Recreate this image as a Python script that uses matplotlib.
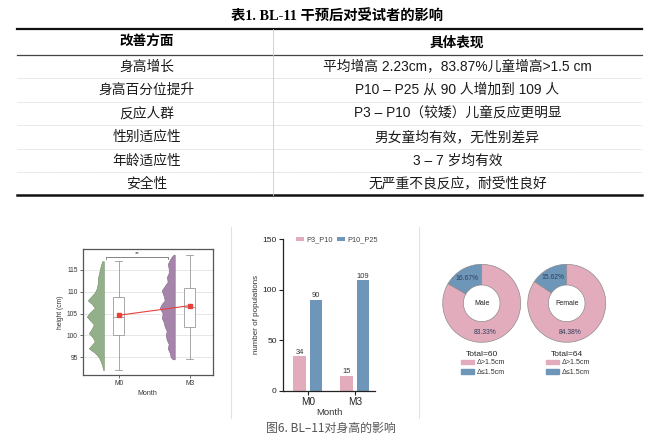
import matplotlib
matplotlib.use('Agg')
import matplotlib.pyplot as plt
from matplotlib.patches import Patch
import numpy as np

plt.rcParams['font.family'] = ['Liberation Sans', 'Noto Sans CJK SC', 'DejaVu Sans']

W, H = 650, 444

# ---- table data ----
table_title = '表1. BL-11 干预后对受试者的影响'
table_header = ['改善方面', '具体表现']
table_aspects = ['身高增长', '身高百分位提升', '反应人群', '性别适应性', '年龄适应性', '安全性']
table_details = ['平均增高 2.23cm，83.87%儿童增高>1.5 cm',
                 'P10 – P25 从 90 人增加到 109 人',
                 'P3 – P10（较矮）儿童反应更明显',
                 '男女童均有效，无性别差异',
                 '3 – 7 岁均有效',
                 '无严重不良反应，耐受性良好']
caption = '图6. BL–11对身高的影响'

# ---- height box plot data ----
months = ['M0', 'M3']
box_q1 = [100.0, 102.0]
box_med = [104.3, 106.5]
box_q3 = [108.8, 110.9]
box_low = [92.0, 94.5]
box_high = [117.0, 118.5]
height_mean = [104.6, 106.8]

violin_m0_height = [92.0, 93.0, 94.0, 95.0, 96.0, 97.0, 97.8, 98.6, 99.5, 100.5, 101.5,
                    102.5, 103.5, 104.3, 105.2, 106.3, 107.2, 108.0, 108.8, 109.8,
                    110.8, 112.0, 113.0, 114.0, 115.0, 116.0, 117.0]
violin_m0_density = [0.5, 1.5, 3, 5, 9, 15, 12, 9, 11, 15, 12, 10, 14, 17, 14, 9, 12,
                     16, 13, 9, 7, 6, 6, 5, 4, 3, 1.5]
violin_m3_height = [94.5, 95.0, 96.0, 97.0, 98.0, 99.0, 100.0, 101.0, 102.0, 103.0,
                    104.0, 105.0, 106.3, 107.2, 108.0, 109.0, 110.3, 111.3, 112.3,
                    113.3, 114.3, 115.3, 116.3, 117.3, 118.0, 118.5]
violin_m3_density = [2, 4, 5, 7, 6, 8, 9, 8, 10, 11, 13, 12, 15, 13, 10, 11, 13, 10, 7,
                     8, 6, 6, 7, 5, 3, 1]

# ---- population bar data ----
bar_groups = ['P3_P10', 'P10_P25']
bar_p3_p10 = [34, 15]
bar_p10_p25 = [90, 109]

# ---- donut data ----
donut_names = ['Male', 'Female']
donut_totals = [60, 64]
donut_small = [16.67, 15.62]   # delta <= 1.5cm
donut_large = [83.33, 84.38]   # delta > 1.5cm
donut_legend = ['Δ>1.5cm', 'Δ≤1.5cm']

PINK = '#e3acbc'
BLUE = '#6e96b8'


def px_rect(left, top, right, bottom):
    return [left / W, (H - bottom) / H, (right - left) / W, (bottom - top) / H]


fig = plt.figure(figsize=(6.5, 4.44), dpi=100)

# background axes in pixel coordinates for the table and separators
bg = fig.add_axes([0, 0, 1, 1])
bg.set_xlim(0, W)
bg.set_ylim(H, 0)
bg.axis('off')

bg.text(337, 16.5, table_title, ha='center', va='center', fontsize=10.3,
        fontweight='bold', family=['Liberation Serif', 'Noto Sans CJK SC'])

tx0, tx1, tcol = 16.7, 641.7, 273
top, head_bottom, row_h = 29.5, 55.0, 23.4
n_rows = len(table_aspects)
bottom = head_bottom + n_rows * row_h

bg.plot([tx0, tx1], [top, top], color='#111111', lw=1.6)
bg.plot([tx0, tx1], [head_bottom, head_bottom], color='#444444', lw=0.9)
for i in range(1, n_rows):
    y = head_bottom + i * row_h
    bg.plot([tx0, tx1], [y, y], color='#cccccc', lw=0.6, ls=(0, (1, 1)))
bg.plot([tx0, tx1], [bottom, bottom], color='#111111', lw=1.8)
bg.plot([tcol, tcol], [top, bottom], color='#cccccc', lw=0.6)

c1, c2 = (tx0 + tcol) / 2 + 2, (tcol + tx1) / 2
bg.text(c1, (top + head_bottom) / 2, table_header[0], ha='center', va='center',
        fontsize=9.8, fontweight='bold')
bg.text(c2, (top + head_bottom) / 2, table_header[1], ha='center', va='center',
        fontsize=9.8, fontweight='bold')
for i, (a, d) in enumerate(zip(table_aspects, table_details)):
    y = head_bottom + (i + 0.5) * row_h
    bg.text(c1, y, a, ha='center', va='center', fontsize=9.9, color='#1a1a1a')
    bg.text(c2, y, d, ha='center', va='center', fontsize=9.9, color='#1a1a1a')

# panel separators and caption
for x in (230.7, 419.0):
    bg.plot([x, x], [226.7, 417.7], color='#e2e2e2', lw=0.8)
bg.text(331, 428, caption, ha='center', va='center', fontsize=8.6, color='#555555',
        family=['Noto Sans CJK SC', 'DejaVu Sans'])

# ---- panel 1: raincloud style box plot ----
ax1 = fig.add_axes(px_rect(82.5, 249, 213, 375))
pos = np.arange(len(months))
ax1.set_xlim(-0.51, 1.33)
ax1.set_ylim(90.9, 119.8)
ax1.set_yticks([95, 100, 105, 110, 115])
ax1.yaxis.grid(True, color='#e3e3e3', lw=0.6)
ax1.set_axisbelow(True)

edge_off, scale = 0.21, 1 / 71
for p, hy, dens, fc, ec in [
        (pos[0], violin_m0_height, violin_m0_density, '#93b08a', '#6f8f66'),
        (pos[1], violin_m3_height, violin_m3_density, '#a585aa', '#85658a')]:
    edge = p - edge_off
    w = np.array(dens) * scale
    ax1.fill_betweenx(hy, edge - w, edge, color=fc, ec=ec, lw=0.4, zorder=2)

stats = [dict(med=box_med[i], q1=box_q1[i], q3=box_q3[i], whislo=box_low[i],
              whishi=box_high[i], fliers=[]) for i in range(len(months))]
ax1.bxp(stats, positions=pos, widths=0.15, showfliers=False, patch_artist=True,
        manage_ticks=False,
        boxprops=dict(facecolor='white', edgecolor='#9a9a9a', lw=0.6),
        whiskerprops=dict(color='#9a9a9a', lw=0.6),
        capprops=dict(color='#9a9a9a', lw=0.6),
        medianprops=dict(color='#9a9a9a', lw=0.6), capwidths=0.09, zorder=3)
ax1.plot(pos, height_mean, color='#e8403a', lw=0.8, marker='s', ms=2.2, zorder=4)

# significance bracket
bx0, bx1, by = -0.18, 0.70, 118.0
ax1.plot([bx0, bx0, bx1, bx1], [by - 0.6, by, by, by - 0.6], color='#555555', lw=0.5)
ax1.text((bx0 + bx1) / 2, by + 0.1, '**', ha='center', va='bottom', fontsize=4.5,
         color='#444444')

ax1.set_xticks(pos)
ax1.set_xticklabels(months)
ax1.tick_params(labelsize=4.8, length=2, width=0.5, colors='#333333', pad=1.5)
ax1.set_xlabel('Month', fontsize=5.0, labelpad=2, color='#333333')
ax1.set_ylabel('height (cm)', fontsize=4.8, labelpad=2, color='#333333')
for s in ax1.spines.values():
    s.set_color('#555555')
    s.set_linewidth(0.9)

# ---- panel 2: population bars ----
ax2 = fig.add_axes(px_rect(283, 239, 375, 390.7))
xb = np.arange(len(months))
bw, off = 0.27, 0.175
b1 = ax2.bar(xb - off, bar_p3_p10, bw, color=PINK, label=bar_groups[0])
b2 = ax2.bar(xb + off, bar_p10_p25, bw, color=BLUE, label=bar_groups[1])
ax2.bar_label(b1, fontsize=5.4, padding=0.5, color='#333333')
ax2.bar_label(b2, fontsize=5.4, padding=0.5, color='#333333')
ax2.set_xlim(-0.53, 1.43)
ax2.set_ylim(0, 150)
ax2.set_yticks([0, 50, 100, 150])
ax2.set_xticks(xb)
ax2.set_xticklabels(months, fontsize=7.2)
ax2.tick_params(axis='y', labelsize=6.0)
ax2.tick_params(length=3, width=0.8, colors='#222222', pad=1.5)
ax2.set_xlabel('Month', fontsize=6.8, labelpad=0.5, color='#333333')
ax2.set_ylabel('number of populations', fontsize=5.8, labelpad=2, color='#333333')
for side in ('top', 'right'):
    ax2.spines[side].set_visible(False)
for side in ('left', 'bottom'):
    ax2.spines[side].set_color('#222222')
    ax2.spines[side].set_linewidth(0.9)
ax2.legend(loc='upper left', bbox_to_anchor=(0.1, 1.04), ncol=2, frameon=False,
           fontsize=5.3, handlelength=1.1, handleheight=0.5, columnspacing=0.6,
           handletextpad=0.3, borderpad=0, labelcolor='#444444')

# ---- panel 3: donuts ----
for i, cx in enumerate([481.7, 566.7]):
    r = 39
    ax = fig.add_axes(px_rect(cx - r, 303.3 - r, cx + r, 303.3 + r))
    wedges, _, autos = ax.pie([donut_small[i], donut_large[i]], colors=[BLUE, PINK],
                              startangle=90, counterclock=True, radius=1,
                              autopct='%.2f%%', pctdistance=0.74,
                              wedgeprops=dict(width=0.53, edgecolor='#8c8c8c', lw=0.5),
                              textprops=dict(fontsize=4.9, color='#2e3f5c'))
    ang = np.deg2rad(-84)
    autos[1].set_position((0.74 * np.cos(ang), 0.74 * np.sin(ang)))
    ax.set_xlim(-1, 1)
    ax.set_ylim(-1, 1)
    ax.text(0, 0, donut_names[i], ha='center', va='center', fontsize=5.0,
            color='#222222')
    ax.text(0.5, -0.16, f'Total={donut_totals[i]}', transform=ax.transAxes,
            ha='center', va='center', fontsize=6.0, color='#222222')
    handles = [Patch(color=PINK), Patch(color=BLUE)]
    ax.legend(handles, donut_legend, loc='upper left', bbox_to_anchor=(0.24, -0.22),
              frameon=False, fontsize=5.1, handlelength=1.8, handleheight=0.6,
              labelspacing=0.35, handletextpad=0.3, borderpad=0, borderaxespad=0,
              labelcolor='#333333')

fig.savefig('out.png', dpi=100)
